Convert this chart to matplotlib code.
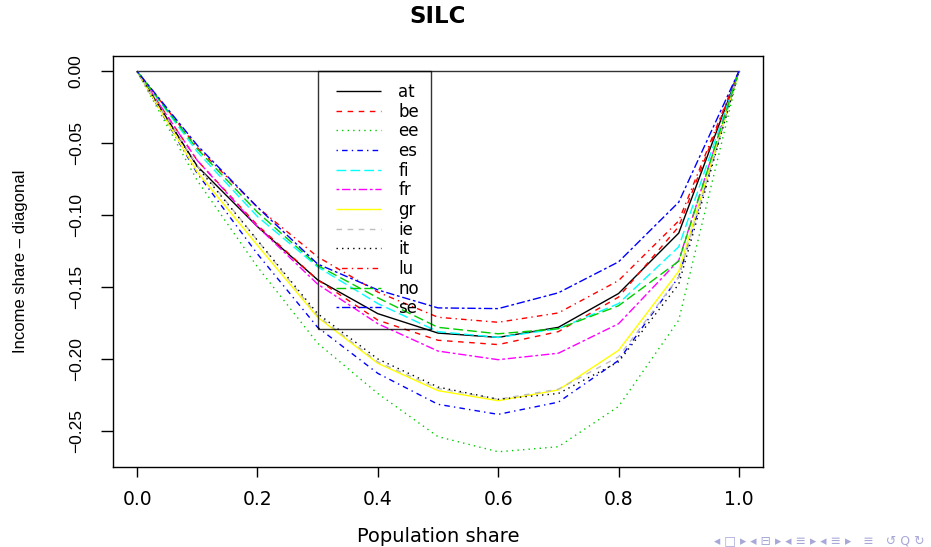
import matplotlib
matplotlib.use("Agg")
import matplotlib.pyplot as plt
from matplotlib.legend_handler import HandlerLine2D
from matplotlib.lines import Line2D
import numpy as np

# ---- data ----
population_share = [0.0, 0.1, 0.2, 0.3, 0.4, 0.5, 0.6, 0.7, 0.8, 0.9, 1.0]
countries = ["at", "be", "ee", "es", "fi", "fr", "gr", "ie", "it", "lu", "no", "se"]

at = [0, -0.0660, -0.1080, -0.1450, -0.1685, -0.1820, -0.1850, -0.1780, -0.1545, -0.1125, 0]
be = [0, -0.0620, -0.1070, -0.1450, -0.1730, -0.1870, -0.1900, -0.1810, -0.1570, -0.1080, 0]
ee = [0, -0.0760, -0.1360, -0.1890, -0.2240, -0.2540, -0.2645, -0.2610, -0.2330, -0.1730, 0]
es = [0, -0.0710, -0.1270, -0.1780, -0.2100, -0.2315, -0.2385, -0.2300, -0.2010, -0.1430, 0]
fi = [0, -0.0560, -0.1010, -0.1360, -0.1615, -0.1810, -0.1850, -0.1790, -0.1615, -0.1220, 0]
fr = [0, -0.0620, -0.1080, -0.1480, -0.1755, -0.1945, -0.2005, -0.1960, -0.1755, -0.1315, 0]
gr = [0, -0.0700, -0.1210, -0.1710, -0.2030, -0.2220, -0.2290, -0.2215, -0.1940, -0.1390, 0]
ie = [0, -0.0655, -0.1175, -0.1700, -0.2020, -0.2205, -0.2280, -0.2210, -0.1985, -0.1430, 0]
it = [0, -0.0665, -0.1175, -0.1685, -0.2000, -0.2195, -0.2280, -0.2240, -0.2020, -0.1480, 0]
lu = [0, -0.0530, -0.0945, -0.1290, -0.1535, -0.1710, -0.1745, -0.1680, -0.1455, -0.1040, 0]
no = [0, -0.0540, -0.0980, -0.1350, -0.1575, -0.1780, -0.1825, -0.1790, -0.1630, -0.1320, 0]
se = [0, -0.0515, -0.0945, -0.1340, -0.1520, -0.1645, -0.1650, -0.1540, -0.1325, -0.0910, 0]

series = [at, be, ee, es, fi, fr, gr, ie, it, lu, no, se]

x_ticks = [0.0, 0.2, 0.4, 0.6, 0.8, 1.0]
x_ticklabels = ["0.0", "0.2", "0.4", "0.6", "0.8", "1.0"]
y_ticks = [0.00, -0.05, -0.10, -0.15, -0.20, -0.25]
y_ticklabels = ["0.00", "\u22120.05", "\u22120.10", "\u22120.15", "\u22120.20", "\u22120.25"]

# ---- styles (R palette / lty recycling) ----
colors = ["black", "#FF0000", "#00CD00", "#0000FF", "#00FFFF", "#FF00FF",
          "#FFFF00", "#BEBEBE", "black", "#FF0000", "#00CD00", "#0000FF"]
dashes = [None, (4, 4), (1, 3), (1, 3, 4, 3), (7, 3), (2, 2, 6, 2),
          None, (4, 4), (1, 3), (1, 3, 4, 3), (7, 3), (2, 2, 6, 2)]

fig = plt.figure(figsize=(9.31, 5.47), dpi=100)
ax = fig.add_axes([113 / 931, 1 - 467 / 547, 650 / 931, 411 / 547])

# diagonal reference (zero line)
ax.plot([population_share[0], population_share[-1]], [0, 0], color="#333333", lw=1.0)

for name, vals, c, d in zip(countries, series, colors, dashes):
    line, = ax.plot(population_share, vals, color=c, lw=1.0, label=name,
                    solid_capstyle="butt", dash_capstyle="butt")
    if d is not None:
        line.set_dashes(d)

ymin = min(min(s) for s in series)
ymax = 0.0
pad_y = 0.04 * (ymax - ymin)
ax.set_xlim(-0.04, 1.04)
ax.set_ylim(ymin - pad_y, ymax + pad_y)

ax.set_xticks(x_ticks)
ax.set_xticklabels(x_ticklabels, family="DejaVu Sans", fontsize=13.5)
ax.set_yticks(y_ticks)
ax.set_yticklabels(y_ticklabels, family="Liberation Sans", fontsize=12.5,
                   rotation=90, va="center")
ax.tick_params(axis="x", direction="out", length=7.5, width=1.0, pad=9)
ax.tick_params(axis="y", direction="out", length=9, width=1.0, pad=12)
for sp in ax.spines.values():
    sp.set_linewidth(1.0)
    sp.set_color("black")

ax.set_xlabel("Population share", family="DejaVu Sans", fontsize=14, va="center")
ax.xaxis.set_label_coords(0.5, -0.170)
ax.set_ylabel("Income share \u2013 diagonal", family="Liberation Sans", fontsize=12,
              va="center", ha="center", rotation=90, rotation_mode="default")
ax.yaxis.set_label_coords(-0.142, 0.5)

ax.set_title("SILC", family="DejaVu Sans", fontweight="bold", fontsize=16.5,
             y=1.097, pad=0, va="center")

leg = ax.legend(loc="upper left", bbox_to_anchor=(0.3, 0.0), bbox_transform=ax.transData,
                prop={"family": "DejaVu Sans", "size": 12}, frameon=True, fancybox=False,
                borderaxespad=0, borderpad=0.7, labelspacing=0.1, handlelength=3.13,
                handletextpad=1.0,
                handler_map={Line2D: HandlerLine2D(xpad=0.38)})
leg.get_frame().set_edgecolor("black")
leg.get_frame().set_linewidth(1.0)
leg.get_frame().set_facecolor("none")

# beamer navigation symbols
fig.text(925 / 931, 1 - 541 / 547,
         "\u25c2 \u25a1 \u25b8 \u25c2 \u229f \u25b8 \u25c2 \u2261 \u25b8 \u25c2 \u2261 \u25b8   \u2261   \u21ba Q \u21bb",
         ha="right", va="center", fontsize=9, color="#a8a8d8", family="DejaVu Sans")

fig.savefig("out.png", dpi=100)
